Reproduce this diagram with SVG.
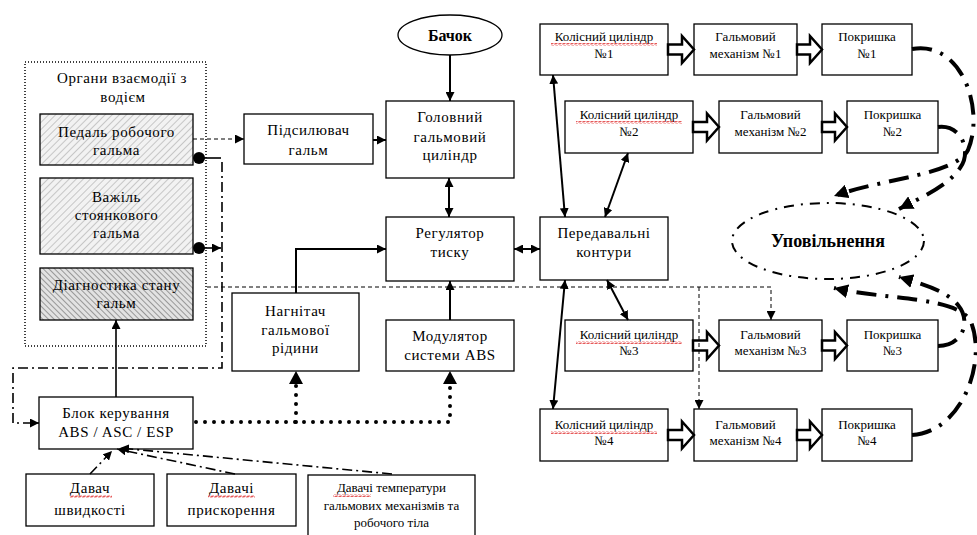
<svg xmlns="http://www.w3.org/2000/svg" width="977" height="535" viewBox="0 0 977 535">
<defs>
<style>
text{font-family:"Liberation Serif","Times New Roman",serif;fill:#000;text-anchor:middle}
.t{font-size:15px;letter-spacing:0.6px}
.s{font-size:13px}
.box{fill:#fff;stroke:#000;stroke-width:1.3}
.sol{fill:none;stroke:#000;stroke-width:2}
.dsh{fill:none;stroke:#000;stroke-width:1;stroke-dasharray:4,3}
.dd{fill:none;stroke:#000;stroke-width:1.6;stroke-dasharray:10,4,2,4}
.big{fill:none;stroke:#000;stroke-width:4;stroke-dasharray:20,9,3,9}
.dot{fill:none;stroke:#000;stroke-width:4;stroke-dasharray:0,9;stroke-linecap:round}
.hol{fill:#fff;stroke:#000;stroke-width:2.5;stroke-linejoin:miter}
</style>
<pattern id="h1" width="5" height="5" patternUnits="userSpaceOnUse" patternTransform="rotate(45)">
<rect width="5" height="5" fill="#f2f2f2"/><line x1="0" y1="0" x2="0" y2="5" stroke="#9a9a9a" stroke-width="1"/>
</pattern>
<pattern id="h2" width="4" height="4" patternUnits="userSpaceOnUse" patternTransform="rotate(-45)">
<rect width="4" height="4" fill="#e2e2e2"/><line x1="0" y1="0" x2="0" y2="4" stroke="#666" stroke-width="1.2"/>
</pattern>
<pattern id="wave" width="4" height="3" patternUnits="userSpaceOnUse">
<path d="M0 2.5 L1 0.5 L3 2.5 L4 0.5" fill="none" stroke="#e03030" stroke-width="0.8"/>
</pattern>
<marker id="a" viewBox="0 0 10 10" refX="10" refY="5" markerWidth="9" markerHeight="9" markerUnits="userSpaceOnUse" orient="auto-start-reverse">
<path d="M0 0 L10 5 L0 10 z" fill="#000"/>
</marker>
<marker id="ab" viewBox="0 0 10 10" refX="10" refY="5" markerWidth="14" markerHeight="14" markerUnits="userSpaceOnUse" orient="auto-start-reverse">
<path d="M0 0 L10 5 L0 10 z" fill="#000"/>
</marker>
</defs>
<rect width="977" height="535" fill="#fff"/>

<!-- left panel -->
<g id="organy">
<rect x="25" y="62" width="181" height="284" fill="none" stroke="#000" stroke-width="1.5" stroke-dasharray="1,2"/>
<text class="t" x="122" y="83">Органи взаємодії з</text>
<text class="t" x="123" y="102">водієм</text>
</g>
<g id="pedal">
<rect x="40" y="114" width="153" height="51" fill="url(#h1)" stroke="#000" stroke-width="1.3"/>
<text class="t" x="116.5" y="137">Педаль робочого</text>
<text class="t" x="116.5" y="155">гальма</text>
</g>
<g id="vazhil">
<rect x="40" y="178" width="153" height="76" fill="url(#h1)" stroke="#000" stroke-width="1.3"/>
<text class="t" x="116.5" y="202">Важіль</text>
<text class="t" x="116.5" y="220">стоянкового</text>
<text class="t" x="116.5" y="238">гальма</text>
</g>
<g id="diagn">
<rect x="40" y="268" width="153" height="52" fill="url(#h2)" stroke="#000" stroke-width="1.3"/>
<text class="t" x="116.5" y="290">Діагностика стану</text>
<text class="t" x="116.5" y="308">гальм</text>
</g>

<g id="bachok">
<ellipse cx="450" cy="35" rx="52" ry="20" class="box"/>
<text x="450" y="41" style="font-size:16px;font-weight:bold">Бачок</text>
</g>
<g id="pidsyl">
<rect x="244" y="114" width="129" height="50" class="box"/>
<text class="t" x="308.5" y="135">Підсилювач</text>
<text class="t" x="308.5" y="155">гальм</text>
</g>
<g id="holovnyi">
<rect x="386" y="101" width="128" height="77" class="box"/>
<text class="t" x="450" y="122">Головний</text>
<text class="t" x="450" y="142">гальмовий</text>
<text class="t" x="450" y="160">циліндр</text>
</g>
<g id="rehul">
<rect x="386" y="217" width="128" height="64" class="box"/>
<text class="t" x="450" y="238">Регулятор</text>
<text class="t" x="450" y="257">тиску</text>
</g>
<g id="nahnitach">
<rect x="232" y="293" width="127" height="78" class="box"/>
<text class="t" x="295.5" y="316">Нагнітач</text>
<text class="t" x="295.5" y="335">гальмової</text>
<text class="t" x="295.5" y="353">рідини</text>
</g>
<g id="modul">
<rect x="386" y="320" width="128" height="51" class="box"/>
<text class="t" x="450" y="341">Модулятор</text>
<text class="t" x="450" y="360">системи ABS</text>
</g>
<g id="blok">
<rect x="39" y="397" width="154" height="52" class="box"/>
<text class="t" x="116" y="418">Блок керування</text>
<text class="t" x="116" y="437">ABS / ASC / ESP</text>
</g>
<g id="d1">
<rect x="26" y="474" width="128" height="52" class="box"/>
<text class="t" x="90" y="493">Давач</text>
<text class="t" x="90" y="515">швидкості</text>
<rect x="70" y="495" width="42" height="3" fill="url(#wave)"/>
</g>
<g id="d2">
<rect x="167" y="474" width="129" height="52" class="box"/>
<text class="t" x="231.5" y="493">Давачі</text>
<text class="t" x="231.5" y="515">прискорення</text>
<rect x="208" y="495" width="47" height="3" fill="url(#wave)"/>
</g>
<g id="d3">
<rect x="308" y="475" width="167" height="70" class="box"/>
<text class="s" x="391.5" y="492">Давачі температури</text>
<text class="s" x="391.5" y="510">гальмових механізмів та</text>
<text class="s" x="391.5" y="527">робочого тіла</text>
<rect x="333" y="494" width="38" height="3" fill="url(#wave)"/>
</g>
<g id="peredav">
<rect x="540" y="217" width="128" height="63" class="box"/>
<text class="t" x="604" y="238">Передавальні</text>
<text class="t" x="604" y="257">контури</text>
</g>
<g id="upov">
<ellipse cx="828" cy="241" rx="96" ry="38" fill="none" stroke="#000" stroke-width="2" stroke-dasharray="10,7,2,7"/>
<text x="828" y="247" style="font-size:18px;font-weight:bold">Уповільнення</text>
</g>

<!-- wheel rows -->
<g id="k1"><rect x="540" y="24" width="128" height="51" class="box"/><text class="s" x="604" y="41">Колісний циліндр</text><text class="s" x="604" y="58">№1</text><rect x="551" y="43" width="106" height="3" fill="url(#wave)"/></g>
<g id="m1"><rect x="694" y="24" width="103" height="51" class="box"/><text class="s" x="745.5" y="41">Гальмовий</text><text class="s" x="745.5" y="58">механізм №1</text></g>
<g id="p1"><rect x="822" y="24" width="90" height="51" class="box"/><text class="s" x="867" y="41">Покришка</text><text class="s" x="867" y="58">№1</text></g>

<g id="k2"><rect x="565" y="101" width="128" height="52" class="box"/><text class="s" x="629" y="119">Колісний циліндр</text><text class="s" x="629" y="136">№2</text><rect x="576" y="121" width="106" height="3" fill="url(#wave)"/></g>
<g id="m2"><rect x="719" y="101" width="103" height="52" class="box"/><text class="s" x="770.5" y="119">Гальмовий</text><text class="s" x="770.5" y="136">механізм №2</text></g>
<g id="p2"><rect x="847" y="101" width="91" height="52" class="box"/><text class="s" x="892.5" y="119">Покришка</text><text class="s" x="892.5" y="136">№2</text></g>

<g id="k3"><rect x="565" y="320" width="128" height="51" class="box"/><text class="s" x="629" y="339">Колісний циліндр</text><text class="s" x="629" y="355">№3</text><rect x="576" y="341" width="106" height="3" fill="url(#wave)"/></g>
<g id="m3"><rect x="719" y="320" width="103" height="51" class="box"/><text class="s" x="770.5" y="339">Гальмовий</text><text class="s" x="770.5" y="355">механізм №3</text></g>
<g id="p3"><rect x="847" y="320" width="91" height="51" class="box"/><text class="s" x="892.5" y="339">Покришка</text><text class="s" x="892.5" y="355">№3</text></g>

<g id="k4"><rect x="540" y="409" width="128" height="52" class="box"/><text class="s" x="604" y="429">Колісний циліндр</text><text class="s" x="604" y="445">№4</text><rect x="551" y="431" width="106" height="3" fill="url(#wave)"/></g>
<g id="m4"><rect x="694" y="409" width="103" height="52" class="box"/><text class="s" x="745.5" y="429">Гальмовий</text><text class="s" x="745.5" y="445">механізм №4</text></g>
<g id="p4"><rect x="822" y="409" width="90" height="52" class="box"/><text class="s" x="867" y="429">Покришка</text><text class="s" x="867" y="445">№4</text></g>

<g id="connectors">
<!-- hollow block arrows -->
<polygon class="hol" points="668,44.5 682,44.5 682,36 694,49.5 682,63 682,54.5 668,54.5"/>
<polygon class="hol" points="797,44.5 810,44.5 810,36 822,49.5 810,63 810,54.5 797,54.5"/>
<polygon class="hol" points="693,122 707,122 707,113.5 719,127 707,140.5 707,132 693,132"/>
<polygon class="hol" points="822,122 835,122 835,113.5 847,127 835,140.5 835,132 822,132"/>
<polygon class="hol" points="693,340.5 707,340.5 707,332 719,345.5 707,359 707,350.5 693,350.5"/>
<polygon class="hol" points="822,340.5 835,340.5 835,332 847,345.5 835,359 835,350.5 822,350.5"/>
<polygon class="hol" points="668,430 682,430 682,421.5 694,435 682,448.5 682,440 668,440"/>
<polygon class="hol" points="797,430 810,430 810,421.5 822,435 810,448.5 810,440 797,440"/>

<!-- solid -->
<path class="sol" d="M373,140 H386" marker-end="url(#a)"/>
<path class="sol" d="M450,55 V101" marker-end="url(#a)"/>
<path class="sol" d="M449,178 V217" marker-start="url(#a)" marker-end="url(#a)"/>
<path class="sol" d="M296,293 V249 H386" marker-end="url(#a)"/>
<path class="sol" d="M450,320 V281" marker-end="url(#a)"/>
<path class="sol" d="M514,249 H540" marker-start="url(#a)" marker-end="url(#a)"/>
<path class="sol" d="M565,217 L553,75" marker-start="url(#a)" marker-end="url(#a)"/>
<path class="sol" d="M605,217 L628,153" marker-start="url(#a)" marker-end="url(#a)"/>
<path class="sol" d="M607,280 L628,320" marker-start="url(#a)" marker-end="url(#a)"/>
<path class="sol" d="M565,280 L553,409" marker-start="url(#a)" marker-end="url(#a)"/>
<path fill="none" stroke="#000" stroke-width="1.6" d="M116,397 V320" marker-end="url(#a)"/>

<!-- dashed -->
<path class="dsh" d="M193,139 H244" marker-end="url(#a)"/>
<path class="dsh" d="M207,287 H771 V320" marker-end="url(#a)"/>
<path class="dsh" d="M699,287 V409" marker-end="url(#a)"/>

<!-- pedal / lever dash-dot -->
<circle cx="199" cy="158" r="6" fill="#000"/>
<circle cx="199" cy="248" r="6" fill="#000"/>
<path fill="none" stroke="#000" stroke-width="1.6" d="M199,158 H221"/>
<path fill="none" stroke="#000" stroke-width="1.6" d="M199,248 H221" marker-end="url(#a)"/>
<path class="dd" d="M222,162 V368 H13 V423 H39" marker-end="url(#a)"/>

<!-- sensors dash-dot -->
<path class="dd" d="M90,474 L112,451" marker-end="url(#a)"/>
<path class="dd" d="M235,474 L117,449" marker-end="url(#a)"/>
<path class="dd" d="M392,474 L120,448" marker-end="url(#a)"/>

<!-- thick dotted control -->
<path class="dot" d="M196,422 H450 V382"/>
<path class="dot" d="M296,422 V382"/>
<path d="M289,384 L296,371 L303,384 z" fill="#000"/>
<path d="M443,384 L450,371 L457,384 z" fill="#000"/>

<!-- thick dash-dot feedback curves -->
<path class="big" d="M912,49 C962,40 985,110 968,150 C955,175 885,178 834,196" marker-end="url(#ab)"/>
<path class="big" d="M938,127 C962,124 972,152 960,168 C948,186 922,197 899,209" marker-end="url(#ab)"/>
<path class="big" d="M938,346 C962,346 972,322 958,305 C945,290 922,284 899,277" marker-end="url(#ab)"/>
<path class="big" d="M912,435 C962,432 987,362 971,322 C958,296 885,300 834,288" marker-end="url(#ab)"/>
</g>
</svg>
